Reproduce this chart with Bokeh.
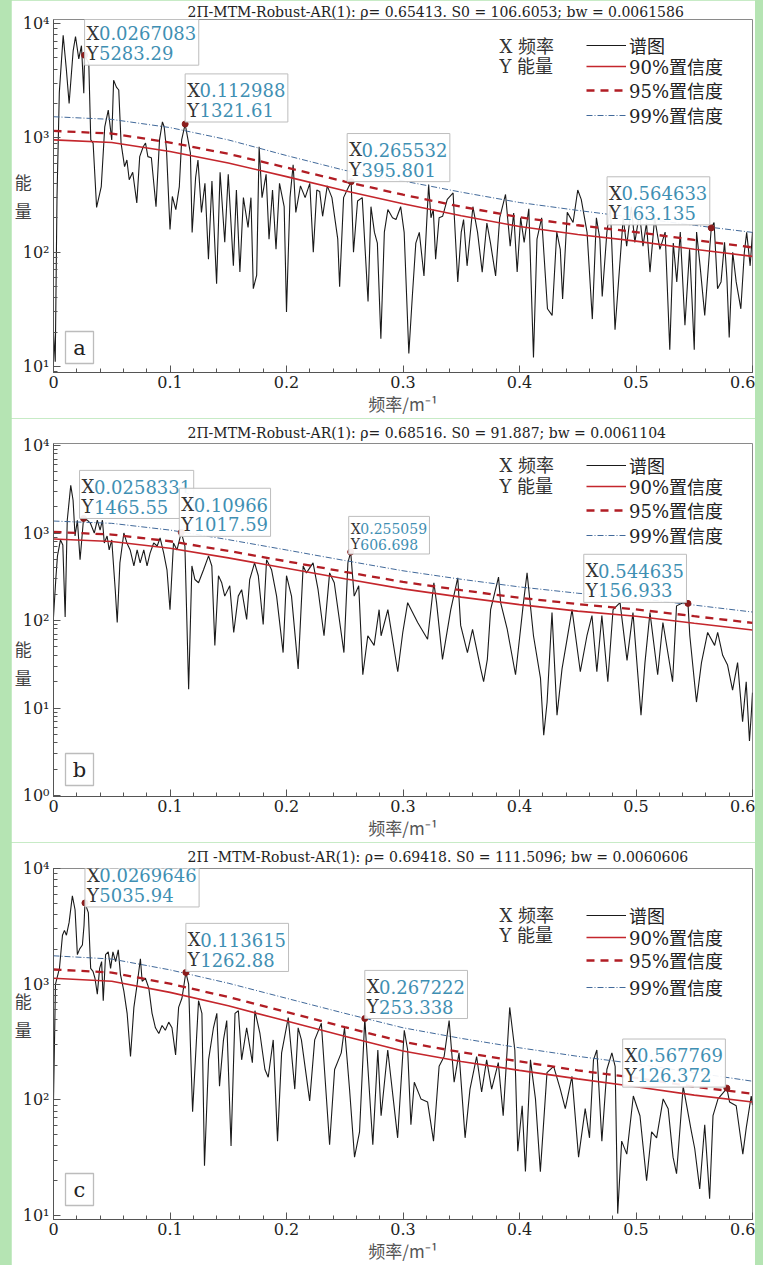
from bokeh.plotting import figure
from bokeh.models import Label, Legend, LegendItem, FixedTicker, CustomJSTickFormatter, BoxAnnotation, Title
from bokeh.layouts import column
from bokeh.embed import file_html
from bokeh.resources import INLINE

GREEN = "#b5e4b3"
SERIF = "'DejaVu Serif', 'Noto Sans CJK SC', serif"
CJK = "'Noto Sans CJK SC', sans-serif"
BLUE = "#3f8fb3"

# ---------------- data ----------------
conf_freq = [0.0, 0.05, 0.1, 0.15, 0.2, 0.25, 0.3, 0.35, 0.4, 0.45, 0.5, 0.55, 0.6]

a_c90 = [960, 910, 760, 603, 458, 345, 265, 208, 168, 143, 125, 106, 92]
a_c95 = [1150, 1090, 910, 725, 550, 415, 318, 250, 202, 172, 150, 128, 110]
a_c99 = [1530, 1450, 1230, 960, 700, 520, 420, 335, 272, 232, 200, 172, 149]

b_c90 = [855, 800, 670, 520, 395, 300, 230, 185, 152, 128, 112, 93, 78]
b_c95 = [1030, 960, 805, 625, 475, 360, 276, 222, 182, 154, 134, 112, 94]
b_c99 = [1370, 1290, 1080, 840, 640, 485, 370, 296, 242, 205, 180, 150, 125]

c_c90 = [1125, 1060, 850, 650, 480, 355, 265, 215, 180, 152, 130, 110, 96]
c_c95 = [1340, 1260, 1010, 775, 575, 425, 318, 258, 215, 180, 155, 130, 113]
c_c99 = [1760, 1650, 1330, 1020, 755, 560, 420, 340, 282, 238, 205, 172, 145]

a_freq = [0.000, 0.0015, 0.003, 0.005, 0.0083, 0.011, 0.0134, 0.0169, 0.0189, 0.0217,
          0.024, 0.026, 0.0267, 0.0303, 0.032, 0.034, 0.037, 0.041, 0.044, 0.047,
          0.050, 0.0516, 0.054, 0.056, 0.058, 0.061, 0.063, 0.065, 0.068, 0.0715,
          0.074, 0.077, 0.079, 0.081, 0.084, 0.088, 0.091, 0.0935, 0.095, 0.097,
          0.100, 0.102, 0.105, 0.108, 0.110, 0.113, 0.115, 0.1175, 0.119, 0.122,
          0.124, 0.127, 0.130, 0.133, 0.136, 0.140, 0.143, 0.147, 0.150, 0.1544,
          0.157, 0.160, 0.163, 0.167, 0.1695, 0.1715, 0.1744, 0.1765, 0.179, 0.1825,
          0.185, 0.188, 0.191, 0.194, 0.198, 0.200, 0.203, 0.2057, 0.208, 0.212,
          0.216, 0.220, 0.223, 0.226, 0.2285, 0.231, 0.235, 0.239, 0.244, 0.2456,
          0.249, 0.252, 0.2555, 0.2575, 0.261, 0.265, 0.270, 0.2725, 0.2755, 0.278,
          0.281, 0.284, 0.287, 0.291, 0.294, 0.298, 0.301, 0.305, 0.308, 0.311,
          0.314, 0.318, 0.322, 0.324, 0.326, 0.328, 0.331, 0.334, 0.338, 0.343,
          0.347, 0.350, 0.352, 0.355, 0.360, 0.364, 0.368, 0.372, 0.375, 0.3795,
          0.383, 0.388, 0.392, 0.395, 0.398, 0.401, 0.404, 0.408, 0.412, 0.415,
          0.419, 0.424, 0.428, 0.432, 0.435, 0.437, 0.441, 0.446, 0.450, 0.453,
          0.458, 0.4625, 0.466, 0.469, 0.471, 0.475, 0.478, 0.482, 0.486, 0.489,
          0.492, 0.496, 0.499, 0.503, 0.506, 0.509, 0.512, 0.516, 0.5205, 0.525,
          0.529, 0.532, 0.535, 0.538, 0.542, 0.546, 0.548, 0.550, 0.552, 0.555,
          0.559, 0.5646, 0.567, 0.570, 0.573, 0.576, 0.578, 0.580, 0.583, 0.586,
          0.590, 0.593, 0.595, 0.598, 0.600]
a_power = [20, 11, 300, 2500, 7870, 4000, 2000, 5800, 7700, 4900,
           6400, 2460, 5283, 4490, 960, 900, 246, 375, 1250, 1750,
           960, 3190, 2775, 2620, 900, 560, 640, 430, 500, 270,
           685, 835, 900, 685, 670, 250, 960, 1377, 1250, 785,
           158, 307, 236, 375, 960, 1321, 1020, 740, 149, 450,
           640, 223, 400, 87, 420, 53, 500, 122, 480, 76,
           350, 67, 300, 165, 300, 48, 63, 835, 300, 480,
           130, 350, 106, 400, 250, 30, 300, 582, 223, 380,
           300, 400, 100, 350, 340, 206, 380, 300, 130, 50,
           300, 350, 414, 100, 280, 300, 37, 250, 149, 120,
           17.5, 150, 236, 200, 193, 250, 149, 13, 41, 120,
           149, 62, 390, 200, 236, 87, 200, 206, 290, 330,
           55, 150, 193, 76, 250, 149, 67, 180, 122, 62,
           200, 320, 113, 220, 67, 200, 122, 240, 12, 130,
           200, 32, 28, 150, 106, 39, 223, 182, 350, 290,
           149, 26, 200, 130, 41, 149, 250, 21, 76, 200,
           113, 250, 122, 220, 113, 180, 67, 200, 106, 150,
           14, 120, 55, 150, 23, 106, 40, 14, 150, 76,
           28, 163, 182, 48, 55, 122, 60, 18, 100, 55,
           32, 100, 149, 76, 150]

b_freq = [0.000, 0.002, 0.0034, 0.006, 0.008, 0.010, 0.0118, 0.0148, 0.0168, 0.0185,
          0.0205, 0.0228, 0.0258, 0.029, 0.0316, 0.035, 0.0376, 0.040, 0.042, 0.0436,
          0.046, 0.0478, 0.050, 0.053, 0.0547, 0.057, 0.0604, 0.063, 0.0658, 0.069,
          0.0718, 0.0744, 0.0775, 0.0803, 0.0829, 0.086, 0.089, 0.0915, 0.0946, 0.0974,
          0.100, 0.103, 0.106, 0.1097, 0.1128, 0.116, 0.1188, 0.1214, 0.1245, 0.1288,
          0.1331, 0.1359, 0.1385, 0.1416, 0.1444, 0.147, 0.1513, 0.1547, 0.1586, 0.1615,
          0.1658, 0.1684, 0.1726, 0.1758, 0.180, 0.1829, 0.1872, 0.1915, 0.1971, 0.200,
          0.2043, 0.210, 0.2143, 0.2171, 0.2228, 0.2271, 0.2322, 0.237, 0.241, 0.2493,
          0.2527, 0.2551, 0.2581, 0.262, 0.2655, 0.2698, 0.2752, 0.2795, 0.2812, 0.287, 0.2955,
          0.2998, 0.304, 0.3126, 0.3211, 0.3265, 0.3288, 0.3339, 0.341, 0.347, 0.3495,
          0.3553, 0.3597, 0.3667, 0.3692, 0.3724, 0.3752, 0.382, 0.3838, 0.3895, 0.3966,
          0.4034, 0.4065, 0.412, 0.418, 0.4208, 0.4237, 0.4279, 0.4322, 0.4365, 0.4408,
          0.4451, 0.4522, 0.4579, 0.4622, 0.4664, 0.4707, 0.4758, 0.4803, 0.4863, 0.4923,
          0.4974, 0.5043, 0.5077, 0.512, 0.5186, 0.5231, 0.5314, 0.5348, 0.5402, 0.5446,
          0.5462, 0.5519, 0.5562, 0.5615, 0.5675, 0.5701, 0.5744, 0.5786, 0.5829, 0.5872,
          0.5915, 0.5946, 0.5974, 0.5989, 0.600]
b_power = [110, 300, 548, 833, 730, 110, 1400, 3500, 2370, 925,
           1400, 494, 1465, 1400, 1300, 1000, 1400, 1080, 1400, 770,
           925, 640, 833, 225, 95, 456, 1000, 770, 640, 420,
           640, 456, 640, 420, 590, 770, 710, 877, 590, 380,
           133, 770, 640, 1017, 710, 16.4, 420, 294, 270, 380,
           548, 420, 52, 325, 270, 190, 250, 73, 190, 225,
           103, 294, 456, 325, 90, 494, 380, 190, 43, 325,
           190, 28, 420, 350, 456, 225, 67, 350, 270, 43,
           456, 607, 190, 250, 24, 67, 52, 133, 67, 133, 26,
           73, 160, 95, 61, 270, 160, 36, 133, 308, 88,
           43, 79, 28, 20, 36, 133, 314, 160, 79, 24,
           160, 350, 67, 22, 4.9, 11.7, 123, 8.3, 28, 61,
           133, 26, 67, 114, 26, 114, 20, 133, 160, 35,
           123, 8.3, 33, 123, 24, 95, 20, 147, 160, 157,
           67, 11.7, 33, 73, 52, 73, 40, 31, 16, 33,
           7, 20, 4.2, 8.3, 15]

c_freq = [0.000, 0.0017, 0.0051, 0.0077, 0.0094, 0.0111, 0.0134, 0.0162, 0.0185, 0.0205,
          0.0225, 0.0248, 0.0262, 0.0270, 0.0299, 0.0319, 0.0339, 0.0356, 0.0376, 0.0396,
          0.0413, 0.0427, 0.0447, 0.047, 0.049, 0.051, 0.0533, 0.0556, 0.0575, 0.0604,
          0.0632, 0.0661, 0.069, 0.0718, 0.0746, 0.0761, 0.0789, 0.0818, 0.0846, 0.0875,
          0.0904, 0.0932, 0.096, 0.0989, 0.1017, 0.1048, 0.1074, 0.1103, 0.1136, 0.116,
          0.1174, 0.1194, 0.1245, 0.1274, 0.1296, 0.1331, 0.1373, 0.1402, 0.1425, 0.1459,
          0.1487, 0.1524, 0.1558, 0.1587, 0.1615, 0.1658, 0.1707, 0.1729, 0.1772, 0.1815,
          0.1843, 0.1886, 0.1923, 0.1958, 0.2015, 0.2071, 0.210, 0.2128, 0.2199, 0.2242,
          0.2299, 0.237, 0.2413, 0.247, 0.2498, 0.2541, 0.2584, 0.2627, 0.2672, 0.2698,
          0.2741, 0.2784, 0.2812, 0.2869, 0.2954, 0.3011, 0.304, 0.3068, 0.3097, 0.3154,
          0.3211, 0.3262, 0.331, 0.3353, 0.3396, 0.3439, 0.3481, 0.3533, 0.3575, 0.3632,
          0.3675, 0.3718, 0.3761, 0.3818, 0.386, 0.3916, 0.396, 0.3985, 0.4023, 0.4051,
          0.4094, 0.4137, 0.4179, 0.4236, 0.4293, 0.435, 0.4393, 0.445, 0.4507, 0.4564,
          0.4601, 0.4635, 0.4664, 0.4707, 0.475, 0.4793, 0.4821, 0.4843, 0.4877, 0.4921,
          0.4977, 0.5034, 0.5091, 0.5134, 0.5177, 0.5233, 0.5276, 0.5318, 0.5348, 0.5405,
          0.5476, 0.5504, 0.5547, 0.559, 0.5632, 0.5661, 0.5704, 0.578, 0.5803, 0.586,
          0.5917, 0.5946, 0.5989, 0.600]
c_power = [100, 1000, 1370, 2650, 2920, 2650, 3420, 5800, 4400, 1800,
           2020, 2180, 3220, 5036, 4160, 1370, 1290, 1125, 820, 1370,
           1570, 720, 1800, 1900, 1370, 1900, 1570, 1980, 1210, 870,
           560, 237, 630, 1000, 1660, 1060, 1125, 925, 560, 420,
           375, 440, 400, 470, 420, 245, 630, 760, 1263, 1000,
           330, 79, 720, 560, 27, 222, 420, 560, 131, 330,
           485, 40, 560, 590, 222, 420, 210, 590, 375, 183,
           157, 330, 44, 255, 515, 124, 420, 330, 98, 330,
           460, 41, 183, 255, 420, 124, 32, 53, 505, 195,
           41, 270, 73, 270, 47, 400, 270, 61, 142, 102,
           96, 44, 195, 237, 485, 142, 255, 47, 124, 237,
           117, 222, 124, 210, 73, 630, 270, 36, 89, 24,
           222, 102, 24, 172, 195, 124, 84, 160, 32, 84,
           47, 222, 270, 44, 183, 255, 195, 10.4, 44, 34,
           108, 73, 20, 53, 47, 102, 84, 32, 23, 131,
           53, 38, 17, 61, 14, 73, 102, 126, 96, 89,
           34, 57, 108, 90]

# marked peaks: position in the picture, and the texts of their data tips
a_mark_f = [0.0267, 0.113, 0.2555, 0.5646]
a_mark_v = [5283.29, 1321.61, 414, 163.135]
a_tip_x = ["0.0267083", "0.112988", "0.265532", "0.564633"]
a_tip_y = ["5283.29", "1321.61", "395.801", "163.135"]

b_mark_f = [0.0258, 0.1097, 0.2551, 0.5446]
b_mark_v = [1465.55, 1017.59, 606.698, 156.933]
b_tip_x = ["0.0258331", "0.10966", "0.255059", "0.544635"]
b_tip_y = ["1465.55", "1017.59", "606.698", "156.933"]

c_mark_f = [0.0270, 0.1136, 0.2672, 0.578]
c_mark_v = [5035.94, 1262.88, 505, 126.372]
c_tip_x = ["0.0269646", "0.113615", "0.267222", "0.567769"]
c_tip_y = ["5035.94", "1262.88", "253.338", "126.372"]

titles = ["2\u03a0-MTM-Robust-AR(1): \u03c1= 0.65413. S0 = 106.6053; bw = 0.0061586",
          "2\u03a0-MTM-Robust-AR(1): \u03c1= 0.68516. S0 = 91.887; bw = 0.0061104",
          "2\u03a0 -MTM-Robust-AR(1): \u03c1= 0.69418. S0 = 111.5096; bw = 0.0060606"]
letters = ["a", "b", "c"]
legend_labels = ["谱图", "90%置信度", "95%置信度", "99%置信度"]
x_ticks = [0.0, 0.1, 0.2, 0.3, 0.4, 0.5, 0.6]
x_minor = [i / 50 for i in range(31)]


def tw(s, fs):
    w = 0.0
    for ch in s:
        if ch == ".":
            w += 0.318
        elif ch.isdigit():
            w += 0.636
        elif ch in "XY":
            w += 0.685
    return w * fs


def add_tip(p, fx, fy, xs, ys, side, fs, dx, dy):
    pad = 2
    lhf = 1.1
    lh = fs * lhf
    w = max(tw("X" + xs, fs), tw("Y" + ys, fs))
    W = w + 2 * pad + 2
    left = dx if side == "left" else dx - W
    p.add_layout(Label(x=fx, y=fy, x_offset=left, y_offset=dy,
                       text="X" + xs + "\n" + "Y" + ys, text_font=SERIF,
                       text_font_size=f"{fs}px", text_color="white", text_line_height=lhf,
                       text_align="left", text_baseline="bottom",
                       background_fill_color="white", background_fill_alpha=0.92,
                       border_line_color="#bdbdbd", border_line_width=1, padding=pad))
    y2 = dy + pad + lh * 0.5
    y1 = dy + pad + lh * 1.5
    for letter, txt, yo in (("X", xs, y1), ("Y", ys, y2)):
        p.add_layout(Label(x=fx, y=fy, x_offset=left + pad, y_offset=yo, text=letter,
                           text_font=SERIF, text_font_size=f"{fs}px", text_color="#333333",
                           text_align="left", text_baseline="middle"))
        p.add_layout(Label(x=fx, y=fy, x_offset=left + pad + tw(letter, fs), y_offset=yo,
                           text=txt, text_font=SERIF, text_font_size=f"{fs}px",
                           text_color=BLUE, text_align="left", text_baseline="middle"))


def make_panel(i, freq, power, c90, c95, c99, mf, mv, tx, ty, tipcfg,
               height, top, bottom, yr, title_standoff, leg_ys, xy_y, ylab_text, let_y):
    p = figure(width=744, height=height, x_range=(0, 0.6), y_range=yr, y_axis_type="log",
               output_backend="svg", toolbar_location=None,
               min_border_left=41, min_border_right=3, min_border_top=top,
               min_border_bottom=bottom, background_fill_color="white",
               border_fill_color="white")
    p.grid.visible = False
    p.outline_line_color = "#8a8a8a"
    p.outline_line_width = 1

    p.add_layout(Title(text=titles[i], align="left", offset=134, standoff=title_standoff,
                       text_font="DejaVu Serif", text_font_size="14px",
                       text_font_style="normal", text_color="#222222"), "above")

    for ax in (p.xaxis, p.yaxis):
        ax.axis_line_color = "#555555"
        ax.major_tick_line_color = "#555555"
        ax.minor_tick_line_color = "#555555"
        ax.major_tick_in = 7
        ax.major_tick_out = 0
        ax.minor_tick_in = 4
        ax.minor_tick_out = 0
        ax.major_label_text_font = SERIF
        ax.major_label_text_font_size = "16px"
        ax.major_label_text_color = "#222222"
    p.xaxis.ticker = FixedTicker(ticks=x_ticks, minor_ticks=x_minor)
    p.xaxis.formatter = CustomJSTickFormatter(
        code="return Math.abs(tick) < 1e-9 ? '0' : tick.toFixed(1);")
    p.xaxis.major_label_standoff = 3
    p.yaxis.major_label_standoff = 4
    p.yaxis.major_label_overrides = {1: "10\u2070", 10: "10\u00b9", 100: "10\u00b2",
                                     1000: "10\u00b3", 10000: "10\u2074"}
    p.xaxis.axis_label = "频率/m\u207b\u00b9"
    p.xaxis.axis_label_text_font = CJK
    p.xaxis.axis_label_text_font_size = "17px"
    p.xaxis.axis_label_text_font_style = "normal"
    p.xaxis.axis_label_text_color = "#555555"
    p.xaxis.axis_label_standoff = 0

    p.yaxis.axis_label = ylab_text
    p.yaxis.axis_label_orientation = "horizontal"
    p.yaxis.axis_label_standoff = -12
    p.yaxis.axis_label_text_font = CJK
    p.yaxis.axis_label_text_font_size = "17px"
    p.yaxis.axis_label_text_font_style = "normal"
    p.yaxis.axis_label_text_color = "#444444"
    p.yaxis.axis_label_text_line_height = 1.15

    r0 = p.line(freq, power, line_color="#1a1a1a", line_width=1.1)
    r1 = p.line(conf_freq, c90, line_color="#c4262c", line_width=1.6)
    r2 = p.line(conf_freq, c95, line_color="#b11d24", line_width=2.3, line_dash="8 6")
    r3 = p.line(conf_freq, c99, line_color="#41699a", line_width=1.0, line_dash="6 2 1 2")
    p.scatter(mf, mv, size=6, color="#8b1c1c")

    for k in range(4):
        side, fs, dx, dy = tipcfg[k]
        add_tip(p, mf[k], mv[k], tx[k], ty[k], side, fs, dx, dy)

    for k, r in enumerate((r0, r1, r2, r3)):
        lg = Legend(items=[LegendItem(label=legend_labels[k], renderers=[r])],
                    location=(533, leg_ys[k]), background_fill_alpha=0, border_line_alpha=0,
                    padding=0, margin=0, spacing=0, glyph_width=40, glyph_height=20,
                    label_height=20, label_standoff=3, label_text_font=SERIF,
                    label_text_font_size="18px", label_text_color="#222222")
        p.add_layout(lg)

    p.add_layout(Label(x=446, y=xy_y[0], x_units="screen", y_units="screen", text="X 频率",
                       text_font=SERIF, text_font_size="18px", text_color="#333333",
                       text_baseline="middle"))
    p.add_layout(Label(x=446, y=xy_y[1], x_units="screen", y_units="screen", text="Y 能量",
                       text_font=SERIF, text_font_size="18px", text_color="#333333",
                       text_baseline="middle"))
    p.add_layout(BoxAnnotation(left=12, right=40, bottom=let_y, top=let_y + 32,
                               left_units="screen", right_units="screen",
                               bottom_units="screen", top_units="screen",
                               fill_color="white", fill_alpha=1, line_color="#222222",
                               line_width=1.3))
    p.add_layout(Label(x=26, y=let_y + 16, x_units="screen", y_units="screen",
                       text=letters[i], text_font=SERIF, text_font_size="21px",
                       text_color="#222222", text_align="center", text_baseline="middle"))
    return p


pa = make_panel(0, a_freq, a_power, a_c90, a_c95, a_c99, a_mark_f, a_mark_v, a_tip_x, a_tip_y,
                [("left", 18, 0, -10), ("left", 18, 0, 2), ("left", 18, -4, 0), ("right", 18, 0, 3)],
                418, 19, 44, (8.87, 10839), 0, [314, 293, 269, 244], (326, 306),
                "能\n量", 9)
pb = make_panel(1, b_freq, b_power, b_c90, b_c95, b_c99, b_mark_f, b_mark_v, b_tip_x, b_tip_y,
                [("left", 18, -4, 0), ("left", 18, -2, -4), ("left", 14, -2, -2), ("right", 18, 0, 1)],
                424, 25, 44, (0.975, 10540), 5, [318, 297, 273, 248], (331, 310),
                "\n\n\n能\n量", 11)
pc = make_panel(2, c_freq, c_power, c_c90, c_c95, c_c99, c_mark_f, c_mark_v, c_tip_x, c_tip_y,
                [("left", 18, 0, -4), ("left", 18, 0, 1), ("left", 18, 0, 0), ("right", 18, 0, 1)],
                423, 26, 41, (9.25, 10000), 7, [291, 269, 246, 219], (304, 284),
                "能\n量\n\n", 14)

pa.margin = (0, 8, 0, 11)
pb.margin = (0, 8, 0, 11)
pc.margin = (0, 8, 0, 11)

layout = column(pa, pb, pc, spacing=0, styles={"background-color": GREEN})

open("out.html", "w").write(file_html(layout, INLINE))
